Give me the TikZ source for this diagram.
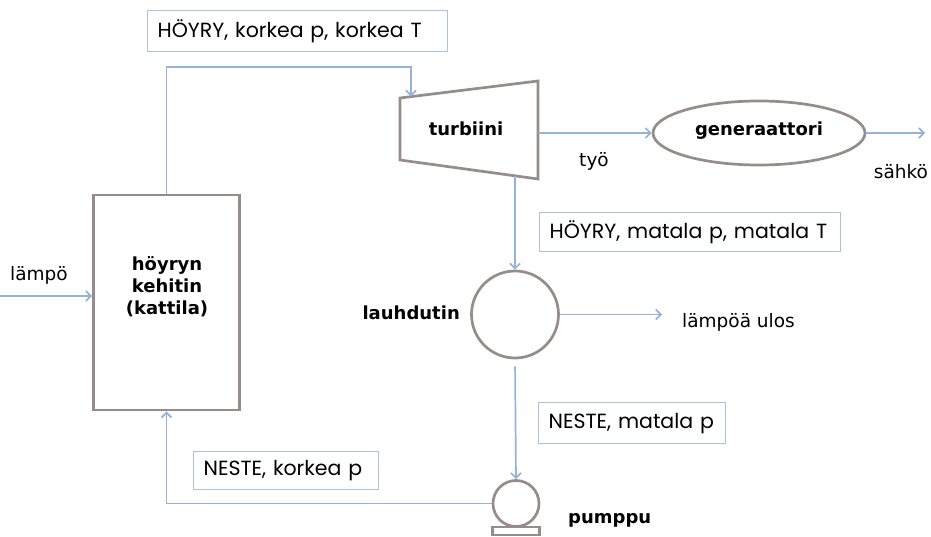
\documentclass[tikz,border=0pt]{standalone}
\usepackage{fontspec}
\setmainfont{DejaVu Sans}
\newfontfamily\boxfont{Poppins}
\usetikzlibrary{arrows.meta,shapes.geometric}
\definecolor{flowblue}{HTML}{95B3D7}
\definecolor{boxblue}{HTML}{A9C2E0}
\definecolor{unitgrey}{HTML}{978C8C}
\begin{document}
\begin{tikzpicture}[x=1pt,y=-1pt,
  flow/.style={draw=flowblue, line width=1.7pt, -{Straight Barb[length=5pt,width=10pt]}},
  unit/.style={draw=unitgrey, line width=2.7pt, fill=white, inner sep=0pt},
  lbox/.style={draw=boxblue, line width=1.2pt, fill=white, anchor=north west,
    font=\boxfont\fontsize{20.5}{24}\selectfont, align=left,
    inner xsep=10pt, inner ysep=0pt},
  caption/.style={font=\fontsize{18.5}{22}\selectfont, inner sep=0pt},
  title/.style={font=\bfseries\fontsize{18}{22}\selectfont, inner sep=0pt, align=center},
]
\useasboundingbox (0,0) rectangle (931,537);

% boiler
\node[unit, minimum width=146pt, minimum height=215pt] (boiler) at (166.5,302.5) {};
\node[title] (boilertext) at (167,287) {höyryn\\kehitin\\(kattila)};

% turbine (widening trapezoid)
\draw[unit] (400,98) -- (538,81) -- (538,179) -- (400,160) -- cycle;
\coordinate (turbIn) at (411,96.6);
\coordinate (turbOut) at (538,133);
\coordinate (turbDown) at (515,176);
\node[title] (turbtext) at (466,129) {turbiini};

% generator
\node[unit, ellipse, minimum width=212pt, minimum height=64pt] (gen) at (759,133) {};
\node[title] (gentext) at (759,131) {generaattori};

% condenser
\node[unit, circle, minimum size=87pt] (cond) at (515,314.5) {};
\node[title, anchor=east] (condtext) at (460,313) {lauhdutin};

% pump
\node[unit, line width=2.2pt, minimum width=47pt, minimum height=8pt] (pumpbase) at (516,531) {};
\node[unit, circle, minimum size=46pt] (pump) at (516,503.5) {};
\node[title, anchor=west] (pumptext) at (568,520) {pumppu};

% free ends of the connectors
\coordinate (heatIn) at (0,296);
\coordinate (bend) at (411,67);
\coordinate (elecOut) at (925,133);
\coordinate (heatOut) at (662,314.5);

% connectors
\draw[flow] (heatIn) -- (heatIn -| boiler.west);
\draw[flow] (boiler.north) |- (bend) -- (turbIn);
\draw[flow] (turbOut) -- (gen.west);
\draw[flow] (gen.east) -- (elecOut);
\draw[flow] (turbDown) -- (cond.north);
\draw[flow] (cond.east) -- (heatOut);
\draw[flow, shorten <=7pt] (cond.south) -- (pump.north);
\draw[flow] (pump.west) -| (boiler.south);

% plain labels
\node[caption, anchor=base west] (heatlabel) at (10,280) {lämpö};
\node[caption] (worklabel) at (594,161) {työ};
\node[caption] (eleclabel) at (901,172) {sähkö};
\node[caption, anchor=west] (heatoutlabel) at (682,322) {lämpöä ulos};

% state boxes
\node[lbox, text width=280pt, minimum height=41pt] (state1) at (147,10) {HÖYRY, korkea p, korkea T};
\node[lbox, text width=281pt, minimum height=39pt] (state2) at (539,212) {HÖYRY, matala p, matala T};
\node[lbox, text width=167pt, minimum height=41pt] (state3) at (538,402) {NESTE, matala p};
\node[lbox, text width=165pt, minimum height=38pt] (state4) at (193,451) {NESTE, korkea p};
\end{tikzpicture}
\end{document}
